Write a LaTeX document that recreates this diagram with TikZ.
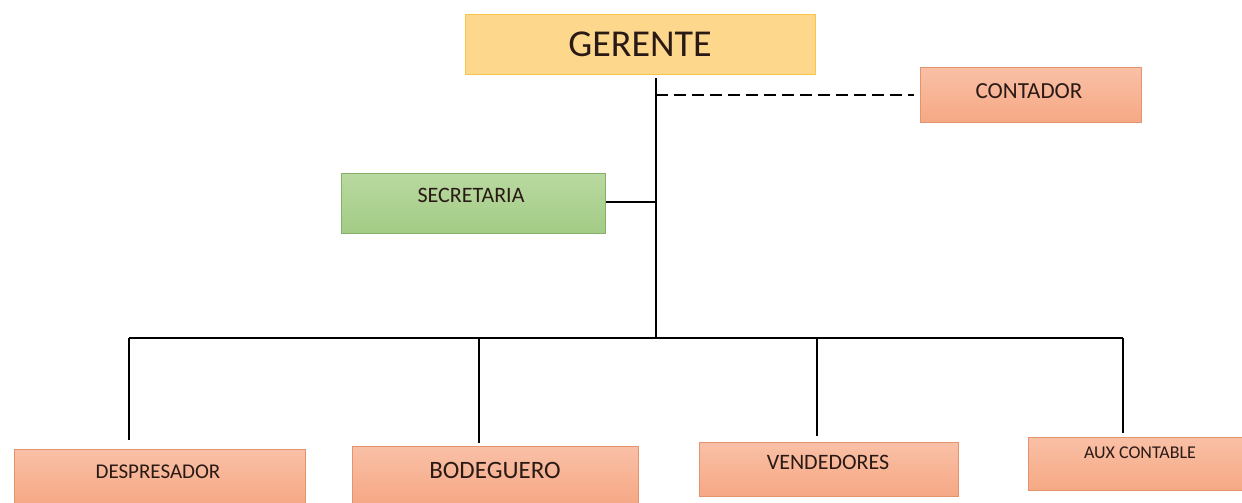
\documentclass[tikz,border=0pt]{standalone}
\usepackage{fontspec}
\setmainfont{Carlito}
\definecolor{gerFill}{HTML}{FDD88C}
\definecolor{gerDraw}{HTML}{F7C548}
\definecolor{salTop}{HTML}{F9C0A6}
\definecolor{salBot}{HTML}{F6A884}
\definecolor{salDraw}{HTML}{E3946E}
\definecolor{grnTop}{HTML}{B9D9A0}
\definecolor{grnBot}{HTML}{A2CB85}
\definecolor{grnDraw}{HTML}{86B066}
\definecolor{txt}{HTML}{2A1A16}
\begin{document}
\begin{tikzpicture}[x=1pt,y=-1pt,
  boxbase/.style={rectangle, inner sep=0pt, anchor=north west, line width=1pt},
  gerbox/.style={boxbase, fill=gerFill, draw=gerDraw},
  salbox/.style={boxbase, top color=salTop, bottom color=salBot, draw=salDraw},
  grnbox/.style={boxbase, top color=grnTop, bottom color=grnBot, draw=grnDraw},
  lbl/.style={text=txt, inner sep=0pt},
  conn/.style={line width=2.3pt, draw=black},
  thinconn/.style={line width=1.6pt, draw=black},
  dashconn/.style={line width=1.6pt, draw=black, dash pattern=on 12pt off 6pt}
]
\useasboundingbox (0,0) rectangle (1242,503);

% boxes
\node[gerbox, minimum width=350, minimum height=60] (ger) at (465,14) {};
\node[lbl, font=\fontsize{38}{40}\selectfont] (gert) at (640,44) {GERENTE};

\node[salbox, minimum width=221, minimum height=55] (cont) at (920,67) {};
\node[lbl, font=\fontsize{23}{25}\selectfont] (contt) at (1029,91) {CONTADOR};

\node[grnbox, minimum width=264, minimum height=60] (sec) at (341,173) {};
\node[lbl, font=\fontsize{22}{24}\selectfont] (sect) at (471,195) {SECRETARIA};

\node[salbox, minimum width=291, minimum height=56] (desp) at (14,449) {};
\node[lbl, font=\fontsize{21}{23}\selectfont] (despt) at (158,472) {DESPRESADOR};

\node[salbox, minimum width=286, minimum height=58] (bod) at (352,446) {};
\node[lbl, font=\fontsize{25}{27}\selectfont] (bodt) at (495,470) {BODEGUERO};

\node[salbox, minimum width=259, minimum height=54] (vend) at (699,442) {};
\node[lbl, font=\fontsize{22}{24}\selectfont] (vendt) at (828,462) {VENDEDORES};

\node[salbox, minimum width=218, minimum height=53] (aux) at (1028,437) {};
\node[lbl, font=\fontsize{18}{20}\selectfont] (auxt) at (1140,453) {AUX CONTABLE};

% connector coordinates
\coordinate (top) at (656,78);
\coordinate (hub) at (656,338);
\coordinate (dj) at (656,95);
\coordinate (sj) at (656,202);
\coordinate (d1) at (129,338);
\coordinate (d2) at (479,338);
\coordinate (d3) at (817,338);
\coordinate (d4) at (1123,338);

% connectors
\draw[conn] (top) -- (hub);
\draw[dashconn, shorten >=6pt] (dj) -- (cont.west |- dj);
\draw[thinconn] (sec.east |- sj) -- (sj);
\draw[conn] (d1) -- (d4);
\draw[line width=1.8pt, shorten >=9pt] (d1) -- (d1 |- desp.north);
\draw[line width=2.8pt, shorten >=3pt] (d2) -- (d2 |- bod.north);
\draw[line width=2.8pt, shorten >=6pt] (d3) -- (d3 |- vend.north);
\draw[line width=2.3pt, shorten >=4pt] (d4) -- (d4 |- aux.north);
\end{tikzpicture}
\end{document}
